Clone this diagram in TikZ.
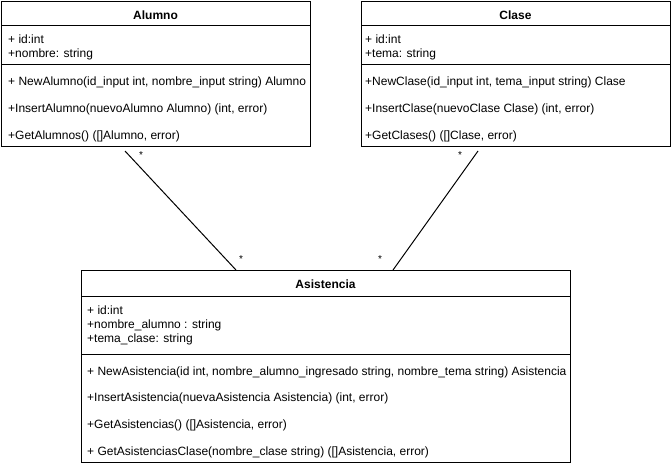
\documentclass[tikz,border=0pt]{standalone}
\usepackage{fontspec}
\setmainfont{Liberation Sans}
\usetikzlibrary{calc}
\begin{document}
\begin{tikzpicture}[x=1pt,y=-1pt,
  cls/.style={draw=black,line width=1pt,anchor=north west,inner sep=0pt,fill=white},
  sep/.style={draw=black,line width=1pt},
  txt/.style={anchor=base west,inner sep=0pt,font=\fontsize{12}{14}\selectfont},
  ttl/.style={anchor=base,inner sep=0pt,font=\fontsize{12}{14}\selectfont\bfseries},
  assoc/.style={draw=black,line width=1pt},
  mult/.style={inner sep=0pt,font=\fontsize{10}{12}\selectfont}]
\useasboundingbox (0,0) rectangle (671,466);
% Alumno
\node[cls,minimum width=309pt,minimum height=145pt] (alumno) at (1,1) {};
\draw[sep] (1,25) -- (310,25);
\draw[sep] (1,64) -- (310,64);
\node[ttl] (alumnoT) at (155.5,19) {Alumno};
\node[txt] (a1) at (8,43) {+ id:int};
\node[txt] (a2) at (8,57) {+nombre: string};
\node[txt] (a3) at (8,85) {+ NewAlumno(id\_input int, nombre\_input string) Alumno};
\node[txt] (a4) at (8,112) {+InsertAlumno(nuevoAlumno Alumno) (int, error)};
\node[txt] (a5) at (8,139) {+GetAlumnos() ([]Alumno, error)};
% Clase
\node[cls,minimum width=309pt,minimum height=145pt] (clase) at (361,1) {};
\draw[sep] (361,25) -- (670,25);
\draw[sep] (361,64) -- (670,64);
\node[ttl] (claseT) at (515.5,19) {Clase};
\node[txt] (c1) at (365,43) {+ id:int};
\node[txt] (c2) at (365,57) {+tema: string};
\node[txt] (c3) at (365,85) {+NewClase(id\_input int, tema\_input string) Clase};
\node[txt] (c4) at (365,112) {+InsertClase(nuevoClase Clase) (int, error)};
\node[txt] (c5) at (365,139) {+GetClases() ([]Clase, error)};
% Asistencia
\node[cls,minimum width=489pt,minimum height=192pt] (asis) at (81,270) {};
\draw[sep] (81,296) -- (570,296);
\draw[sep] (81,354) -- (570,354);
\node[ttl] (asisT) at (325.5,288) {Asistencia};
\node[txt] (s1) at (87,314) {+ id:int};
\node[txt] (s2) at (87,328) {+nombre\_alumno : string};
\node[txt] (s3) at (87,342.5) {+tema\_clase: string};
\node[txt] (s4) at (87,375) {+ NewAsistencia(id int, nombre\_alumno\_ingresado string, nombre\_tema string) Asistencia};
\node[txt] (s5) at (87,401.5) {+InsertAsistencia(nuevaAsistencia Asistencia) (int, error)};
\node[txt] (s6) at (87,428) {+GetAsistencias() ([]Asistencia, error)};
\node[txt] (s7) at (87,455) {+ GetAsistenciasClase(nombre\_clase string) ([]Asistencia, error)};
% connectors
\coordinate (pa) at ($(alumno.south west)+(124,4)$);
\coordinate (qa) at ($(asis.north west)+(155,0)$);
\coordinate (pc) at ($(clase.south west)+(117,4)$);
\coordinate (qc) at ($(asis.north west)+(312,0)$);
\draw[assoc] (pa) -- (qa);
\draw[assoc] (pc) -- (qc);
\node[mult] (m1) at (141,155) {*};
\node[mult] (m2) at (241,259) {*};
\node[mult] (m3) at (460,155) {*};
\node[mult] (m4) at (380,259) {*};
\end{tikzpicture}
\end{document}
